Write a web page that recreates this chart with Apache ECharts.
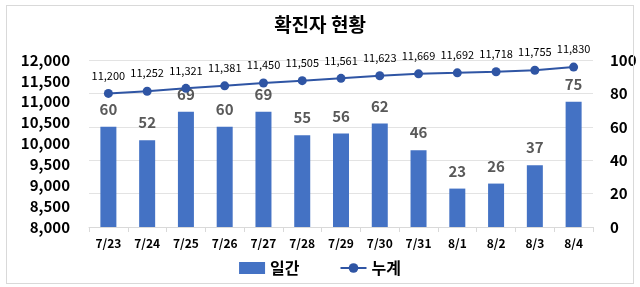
<!DOCTYPE html>
<html>
<head>
<meta charset="utf-8">
<script src="https://cdn.jsdelivr.net/npm/echarts@6/dist/echarts.min.js"></script>
<style>
  html, body { margin: 0; padding: 0; background: #fff; }
  #chart { width: 640px; height: 287px; }
  .frame { position: absolute; left: 6px; top: 5px; width: 626px; height: 277px; border: 1px solid #d9d9d9; pointer-events: none; }
</style>
</head>
<body>
<div id="chart"></div>
<div class="frame"></div>
<script>
const dates = ['7/23', '7/24', '7/25', '7/26', '7/27', '7/28', '7/29', '7/30', '7/31', '8/1', '8/2', '8/3', '8/4']
const daily = [60, 52, 69, 60, 69, 55, 56, 62, 46, 23, 26, 37, 75]
const total = [11200, 11252, 11321, 11381, 11450, 11505, 11561, 11623, 11669, 11692, 11718, 11755, 11830]

const font = '"Malgun Gothic", "Noto Sans CJK KR", "Noto Sans", sans-serif'

const chart = echarts.init(document.getElementById('chart'))
chart.setOption({
  animation: false,
  textStyle: { fontFamily: font },
  title: {
    text: '확진자 현황',
    left: 'center',
    top: 10,
    textStyle: { fontSize: 19, fontWeight: 'bold', color: '#000', fontFamily: font }
  },
  legend: {
    bottom: 6,
    left: 'center',
    itemGap: 40,
    itemWidth: 26,
    itemHeight: 12,
    textStyle: { fontSize: 16, fontWeight: 'bold', color: '#000', fontFamily: font },
    data: [
      { name: '일간', icon: 'rect' },
      { name: '누계' }
    ]
  },
  grid: {
    left: 89,
    right: 47,
    top: 60,
    bottom: 60,
    containLabel: false
  },
  xAxis: {
    type: 'category',
    data: dates,
    axisLine: { lineStyle: { color: '#d9d9d9' } },
    axisTick: { show: true, length: 5, lineStyle: { color: '#d9d9d9' } },
    axisLabel: { color: '#000', fontWeight: 'bold', fontSize: 12, margin: 10, fontFamily: font }
  },
  yAxis: [
    {
      type: 'value',
      min: 8000,
      max: 12000,
      interval: 500,
      position: 'left',
      splitLine: { show: false },
      axisLine: { show: false },
      axisTick: { show: false },
      axisLabel: {
        color: '#000',
        fontWeight: 'bold',
        fontSize: 15,
        margin: 19,
        fontFamily: font,
        formatter: v => v.toLocaleString('en-US')
      }
    },
    {
      type: 'value',
      min: 0,
      max: 100,
      interval: 20,
      position: 'right',
      splitLine: { show: true, lineStyle: { color: '#e3e3e3' } },
      axisLine: { show: false },
      axisTick: { show: false },
      axisLabel: { color: '#000', fontWeight: 'bold', fontSize: 15, margin: 17, fontFamily: font }
    }
  ],
  series: [
    {
      name: '일간',
      type: 'bar',
      yAxisIndex: 1,
      data: daily,
      barWidth: 16,
      itemStyle: { color: '#4472c4' },
      label: {
        show: true,
        position: 'top',
        distance: 10,
        color: '#595959',
        fontSize: 15,
        fontWeight: 'bold',
        fontFamily: font
      },
      z: 2
    },
    {
      name: '누계',
      type: 'line',
      yAxisIndex: 0,
      data: total,
      symbol: 'circle',
      symbolSize: 9,
      lineStyle: { color: '#2f55a4', width: 2 },
      itemStyle: { color: '#2f55a4' },
      label: {
        show: true,
        position: 'top',
        distance: 8,
        color: '#000',
        fontSize: 11,
        fontFamily: font,
        formatter: p => p.value.toLocaleString('en-US')
      },
      z: 3
    }
  ]
})
</script>
</body>
</html>
